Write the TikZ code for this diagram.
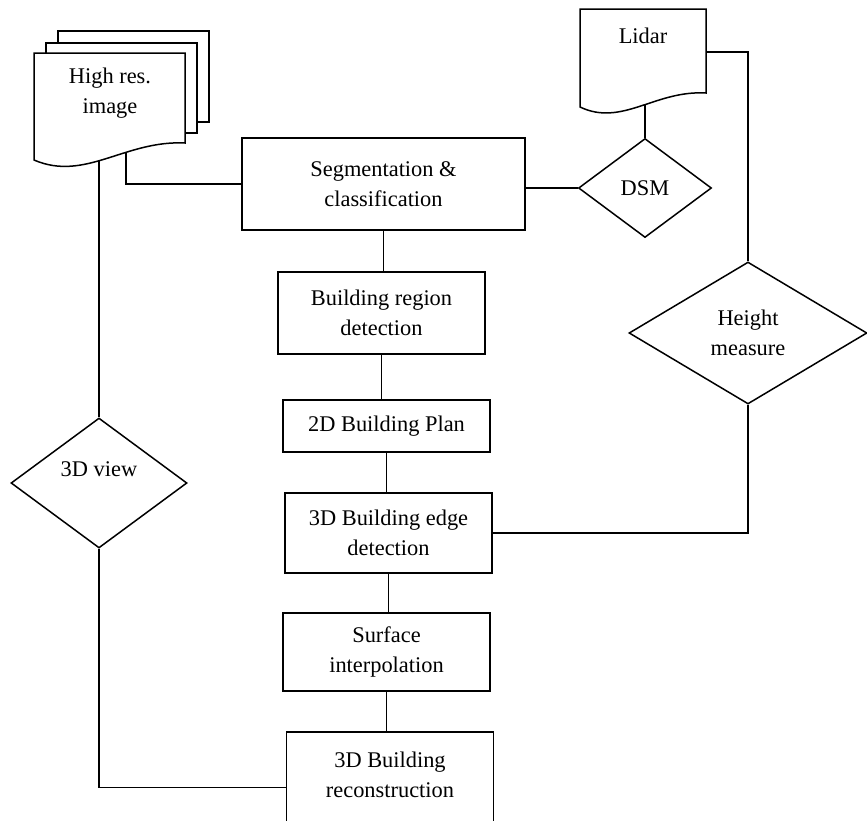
\documentclass[tikz,border=0pt]{standalone}
\usepackage{fontspec}
\setmainfont{Liberation Serif}
\usetikzlibrary{arrows,shapes.geometric}

\begin{document}
\begin{tikzpicture}[x=0.5pt,y=-0.5pt,line width=0.75pt,
	every node/.style={font=\fontsize{11.2}{15}\selectfont,align=center},
	box/.style={draw,rectangle,minimum width=103.5pt},
	dec/.style={draw,diamond,inner sep=1pt},
	doc/.style={draw,fill=white}]
	\useasboundingbox (0,0) rectangle (867,820);
	% stack of pages
	\draw[doc] (58,31) rectangle (209,122);
	\draw[doc] (46,43) rectangle (197,133);
	\draw[doc] (34,160) -- (34,53) -- (185,53) -- (185,143) .. controls (125,140) and (85,182) .. (34,160) -- cycle;
	\node (0) at (110,93) {High res.\\image};
	\coordinate (0a) at (126,152);
	\coordinate (0b) at (99,161);
	% lidar page
	\draw[doc] (580,107) -- (580,9) -- (706,9) -- (706,93) .. controls (655,90) and (622,127) .. (580,107) -- cycle;
	\node (1) at (643,36) {Lidar};
	\coordinate (1a) at (645,105);
	\coordinate (1b) at (706,52);
	\node[box,minimum width=141.5pt,minimum height=46pt] (2) at (383.5,184) {Segmentation \&\\classification};
	\node[dec,minimum width=66.5pt,minimum height=49.5pt] (3) at (645,188) {DSM};
	\node[box,minimum height=41pt] (4) at (381.5,313) {Building region\\detection};
	\node[box,minimum height=26pt] (5) at (386.5,426) {2D Building Plan};
	\node[box,minimum height=40pt] (6) at (388.5,533) {3D Building edge\\detection};
	\node[box,minimum height=39pt] (7) at (386.5,652) {Surface\\interpolation};
	\node[box,anchor=north,inner ysep=10pt,text depth=13pt] (8) at (390,731) {3D Building\\reconstruction};
	\node[dec,minimum width=88pt,minimum height=65pt,text depth=13.6pt] (9) at (99,483) {3D view};
	\node[dec,minimum width=119pt,minimum height=71pt] (10) at (748,333) {Height\\measure};
	\draw [-](0a) |- (2.west);
	\draw [-](0b) -- (9.north);
	\draw [-](9.south) |- (8.west);
	\draw [-](1a) -- (3.north);
	\draw [-](1b) -| (10.north);
	\draw [-](3.west) -- (3.west -| 2.east);
	\draw [-](10.south) |- (6.east);
	\draw [-](2.south) -- (2.south |- 4.north);
	\draw [-](4.south) -- (4.south |- 5.north);
	\draw [-](5.south) -- (5.south |- 6.north);
	\draw [-](6.south) -- (6.south |- 7.north);
	\draw [-](7.south) -- (7.south |- 8.north);
\end{tikzpicture}
\end{document}
